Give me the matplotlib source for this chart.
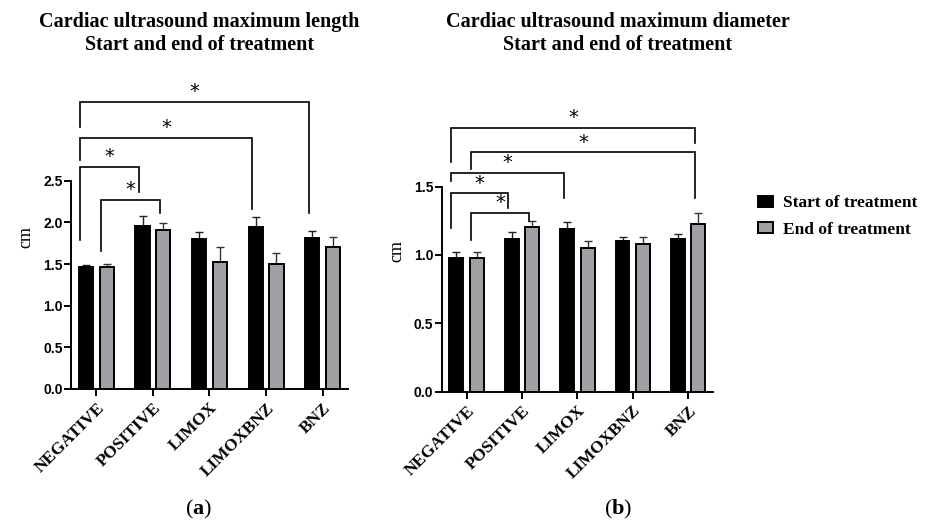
import matplotlib
matplotlib.use("Agg")
import matplotlib.pyplot as plt
from matplotlib.patches import Patch
import numpy as np

plt.rcParams['font.family'] = 'serif'
plt.rcParams['font.serif'] = ['Liberation Serif', 'DejaVu Serif']
plt.rcParams['mathtext.fontset'] = 'custom'
plt.rcParams['mathtext.rm'] = 'Liberation Serif'
plt.rcParams['mathtext.bf'] = 'Liberation Serif:bold'

groups = ["NEGATIVE", "POSITIVE", "LIMOX", "LIMOXBNZ", "BNZ"]

# (a) maximum length
len_start = [1.46, 1.96, 1.80, 1.94, 1.81]
len_start_err = [0.03, 0.12, 0.08, 0.12, 0.09]
len_end = [1.46, 1.91, 1.52, 1.50, 1.71]
len_end_err = [0.04, 0.08, 0.18, 0.13, 0.11]

# (b) maximum diameter
dia_start = [0.98, 1.12, 1.19, 1.10, 1.12]
dia_start_err = [0.04, 0.05, 0.05, 0.03, 0.03]
dia_end = [0.98, 1.205, 1.05, 1.08, 1.23]
dia_end_err = [0.04, 0.045, 0.05, 0.05, 0.08]

# significance brackets: (group, series, leg bottom) -> (group, series, leg bottom), bar height
# series 0 = start, 1 = end
len_brackets = [
    ((0, 0, 3.15), (4, 0, 2.11), 3.44),
    ((0, 0, 2.75), (3, 0, 2.16), 3.01),
    ((0, 0, 1.79), (1, 0, 2.36), 2.66),
    ((0, 1, 1.66), (1, 1, 2.11), 2.27),
]
dia_brackets = [
    ((0, 0, 1.68), (4, 1, 1.82), 1.93),
    ((0, 1, 1.63), (4, 1, 1.415), 1.75),
    ((0, 0, 1.54), (2, 0, 1.42), 1.60),
    ((0, 0, 1.195), (1, 0, 1.34), 1.45),
    ((0, 1, 1.11), (1, 1, 1.25), 1.31),
]

W = 0.25
OFF = 0.185
BLACK = "#000000"
GRAY = "#a0a0a4"


def draw_panel(ax, start, start_err, end, end_err, brackets, ytop, ymax, yticks, star_dy):
    x = np.arange(len(groups))
    ax.bar(x - OFF, start, W, color=BLACK, edgecolor="black", linewidth=1.4, zorder=3)
    ax.bar(x + OFF, end, W, color=GRAY, edgecolor="black", linewidth=1.4, zorder=3)
    ax.errorbar(x - OFF, start, yerr=[np.zeros(5), start_err], fmt="none",
                ecolor="#222222", elinewidth=1.0, capsize=3, capthick=1.0, zorder=2)
    ax.errorbar(x + OFF, end, yerr=[np.zeros(5), end_err], fmt="none",
                ecolor="#333333", elinewidth=1.0, capsize=3, capthick=1.0, zorder=2)

    for (g1, s1, b1), (g2, s2, b2), h in brackets:
        x1 = g1 + (OFF if s1 else -OFF) - 0.1
        x2 = g2 + (OFF if s2 else -OFF) - 0.06
        ax.plot([x1, x1, x2, x2], [b1, h, h, b2], color="black", lw=1.2,
                clip_on=False, solid_joinstyle="miter")
        ax.text((x1 + x2) / 2, h + star_dy, "*", ha="center", va="center",
                fontsize=14, family="DejaVu Sans")

    ax.set_xlim(-0.45, 4.45)
    ax.set_ylim(0, ymax)
    ax.spines["top"].set_visible(False)
    ax.spines["right"].set_visible(False)
    ax.spines["left"].set_bounds(0, ytop)
    ax.spines["left"].set_linewidth(1.4)
    ax.spines["bottom"].set_linewidth(1.4)
    ax.set_yticks(yticks)
    ax.set_yticklabels([f"{t:.1f}" for t in yticks], family="Liberation Sans",
                       fontweight="bold", fontsize=10)
    ax.tick_params(axis="both", width=1.4, length=5, pad=1)
    ax.tick_params(axis="x", pad=3)
    ax.set_xticks(np.arange(len(groups)))
    ax.set_xticklabels(groups, rotation=45, ha="right", va="top",
                       rotation_mode="anchor", fontweight="bold", fontsize=12.5)
    ax.set_ylabel("cm", fontsize=13, labelpad=6)


fig = plt.figure(figsize=(9.28, 5.28), dpi=100)
ax1 = fig.add_axes([0.0765, 0.2633, 0.2985, 0.5758])
ax2 = fig.add_axes([0.476, 0.2581, 0.2924, 0.5335])

draw_panel(ax1, len_start, len_start_err, len_end, len_end_err, len_brackets,
           2.5, 3.65, [0.0, 0.5, 1.0, 1.5, 2.0, 2.5], 0.13)
draw_panel(ax2, dia_start, dia_start_err, dia_end, dia_end_err, dia_brackets,
           1.5, 2.06, [0.0, 0.5, 1.0, 1.5], 0.075)

fig.text(0.215, 0.978, "Cardiac ultrasound maximum length\nStart and end of treatment",
         ha="center", va="top", fontsize=14.5, fontweight="bold", linespacing=1.2)
fig.text(0.666, 0.978, "Cardiac ultrasound maximum diameter\nStart and end of treatment",
         ha="center", va="top", fontsize=14.5, fontweight="bold", linespacing=1.2)

fig.text(0.214, 0.035, r"($\mathbf{a}$)", ha="center", va="center", fontsize=16)
fig.text(0.666, 0.035, r"($\mathbf{b}$)", ha="center", va="center", fontsize=16)

handles = [Patch(facecolor=BLACK, edgecolor="black", linewidth=1.4),
           Patch(facecolor=GRAY, edgecolor="black", linewidth=1.4)]
fig.legend(handles, ["Start of treatment", "End of treatment"],
           loc="upper left", bbox_to_anchor=(0.8, 0.66), frameon=False,
           prop={"weight": "bold", "size": 12.5}, handlelength=0.85,
           handleheight=0.6, handletextpad=0.6, labelspacing=0.6)

fig.savefig("out.png", dpi=100)
